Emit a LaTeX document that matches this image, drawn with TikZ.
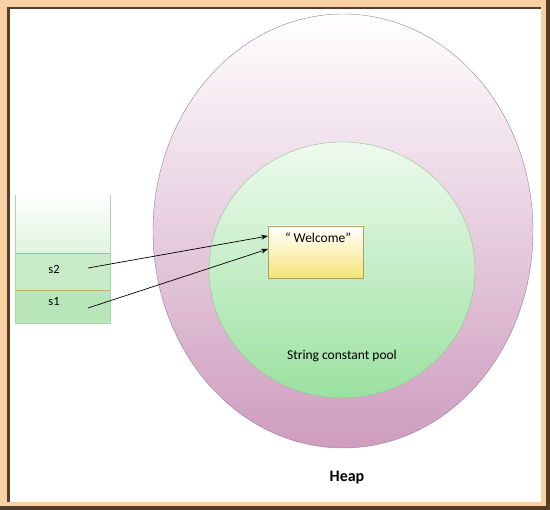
\documentclass[tikz,border=0pt]{standalone}
\usepackage{fontspec}
\setmainfont{Carlito}
\usetikzlibrary{arrows.meta,shapes.geometric}
\definecolor{framepeach}{RGB}{250, 208, 165}
\definecolor{frameshadow}{RGB}{85, 62, 40}
\definecolor{heappink}{RGB}{206, 156, 190}
\definecolor{heapmid}{RGB}{238, 212, 232}
\definecolor{heapline}{RGB}{150, 130, 150}
\definecolor{poolgreen}{RGB}{155, 225, 160}
\definecolor{poolmid}{RGB}{182, 236, 184}
\definecolor{pooltop}{RGB}{238, 250, 238}
\definecolor{poolline}{RGB}{150, 190, 150}
\definecolor{boxyellow}{RGB}{245, 228, 120}
\definecolor{boxline}{RGB}{170, 160, 100}
\definecolor{stacktop}{RGB}{222, 244, 222}
\definecolor{stackmid}{RGB}{200, 236, 200}
\definecolor{stacklow}{RGB}{185, 230, 185}
\definecolor{stackline}{RGB}{170, 215, 170}
\definecolor{cellline}{RGB}{185, 180, 120}
\tikzset{
  cell/.style = {rectangle, minimum width = 95pt, inner sep = 0pt},
  cellname/.style = {font = \fontsize{12.5}{14}\selectfont},
  ref/.style = {-{Stealth[length = 7pt, width = 5pt]}, line width = 0.7pt}
}

\begin{document}
\begin{tikzpicture}[x = 1pt, y = -1pt]
			% frame
			\fill[frameshadow] (0,0) rectangle (550,510);
			\fill[framepeach] (0,0) rectangle (546,506);
			\fill[frameshadow] (7,7) rectangle (541,502);
			\fill[white] (9.5,9.5) rectangle (541,502);
			\useasboundingbox (0,0) rectangle (550,510);
			% heap and pool
			\node (heap) at (343,231) [ellipse, draw = heapline, top color = white, middle color = heapmid, bottom color = heappink, minimum width = 380pt, minimum height = 434pt] {};
			\node (pool) at (342,270) [ellipse, draw = poolline, top color = pooltop, middle color = poolmid, bottom color = poolgreen, minimum width = 266pt, minimum height = 256pt] {};
			\node (welcome) at (315.5,252) [rectangle, draw = boxline, top color = white, bottom color = boxyellow, minimum width = 95pt, minimum height = 52pt, inner sep = 0pt] {};
			\node (wtext) at (318,238) [font = \fontsize{13.5}{15}\selectfont] {“ Welcome”};
			\node (poolname) at (342,356) [font = \fontsize{13.5}{15}\selectfont] {String constant pool};
			\node (heapname) at (347,478) [font = \bfseries\fontsize{16}{18}\selectfont] {Heap};
			% stack
			\node (free) at (62.5,224) [cell, top color = white, bottom color = stacktop, minimum height = 58pt] {};
			\node (s2) at (62.5,271.5) [cell, fill = stackmid, minimum height = 37pt] {};
			\node (s1) at (62.5,306.5) [cell, fill = stacklow, minimum height = 33pt] {};
			\node (s2name) at (54,269) [cellname] {s2};
			\node (s1name) at (54,302) [cellname] {s1};
			\draw[stackline] (free.north west) -- (s1.south west) -- (s1.south east) -- (free.north east);
			\draw[cellline] (s2.north west) -- (s2.north east);
			\draw[cellline] (s1.north west) -- (s1.north east);
			% references
			\coordinate (s2ref) at (88,268);
			\coordinate (s1ref) at (88,308);
			\coordinate (w2) at (268,236);
			\coordinate (w1) at (268,249);
			\draw[ref] (s2ref) -- (w2);
			\draw[ref] (s1ref) -- (w1);
			\end{tikzpicture}
\end{document}
